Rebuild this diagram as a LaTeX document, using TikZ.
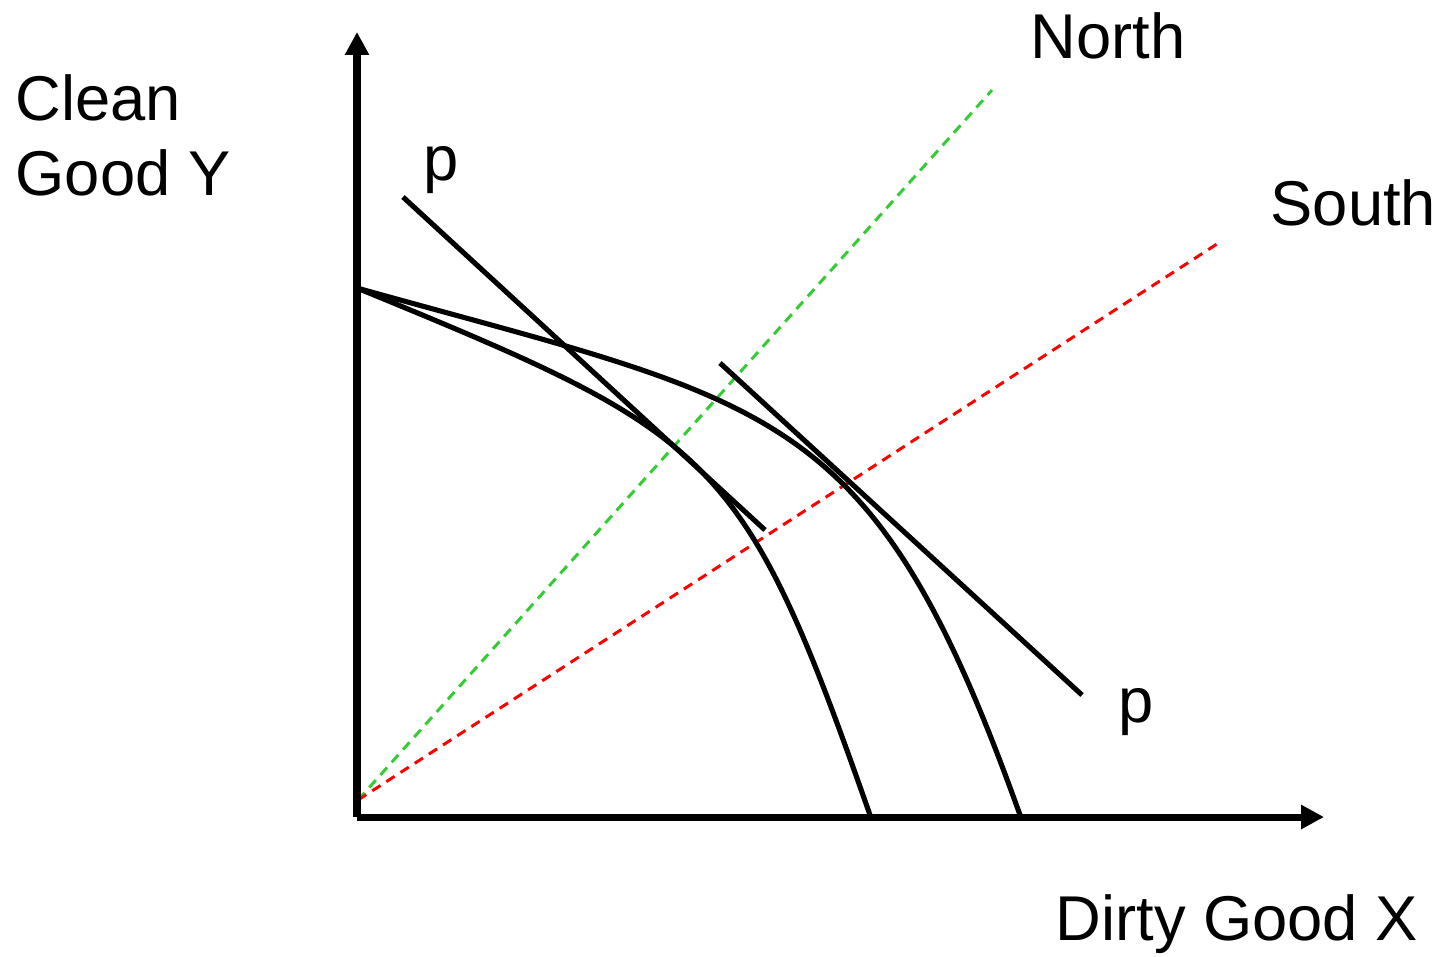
\documentclass[tikz,border=0pt]{standalone}
\usepackage{fontspec}
\setmainfont{Liberation Sans}
\usetikzlibrary{arrows.meta}
\begin{document}
\begin{tikzpicture}[x=0.01cm,y=-0.01cm,
        axisline/.style={line width=2pt, -{Triangle[length=6.5pt,width=6.5pt]}},
        ppfline/.style={line width=1.45pt},
        rayline/.style={line width=0.85pt, dash pattern=on 2.8pt off 2pt},
        axistext/.style={inner sep=0pt, anchor=base west, font=\fontsize{18pt}{21.3pt}\selectfont},
        ]
                \useasboundingbox (0,0) rectangle (1443,956);

                \coordinate (O)    at (357,817);
                \coordinate (ytip) at (357,32);
                \coordinate (xtip) at (1324,817);
                \coordinate (ray)  at (358,800);
                \coordinate (north) at (992,90);
                \coordinate (south) at (1220,242);
                \coordinate (top)  at (357,288);
                \coordinate (xin)  at (870,815);
                \coordinate (xout) at (1020,815);
                \coordinate (p1a)  at (403,197);
                \coordinate (p1b)  at (765,530);
                \coordinate (p2a)  at (720,363);
                \coordinate (p2b)  at (1082,695);

                \draw[rayline, green!75!black!80] (ray)  --  (north) ;
                \draw[rayline, red] (ray)  --  (south) ;

                \draw[axisline] (O)  --  (ytip) ;
                \draw[axisline] (O)  --  (xtip) ;

                \draw[ppfline] (top) .. controls (715,435) and (742,450) .. (xin) ;
                \draw[ppfline] (top) .. controls (776,405) and (872,401) .. (xout) ;

                \draw[ppfline] (p1a)  --  (p1b) ;
                \draw[ppfline] (p2a)  --  (p2b) ;

                \node[axistext, align=left] at (15,195) (ylab) {Clean\\Good Y};
                \node[axistext] at (1055,940) (xlab) {Dirty Good X};
                \node[axistext] at (1030,58) (nlab) {North};
                \node[axistext] at (1270,225) (slab) {South};
                \node[axistext] at (423,180) (plab1) {p};
                \node[axistext] at (1118,722) (plab2) {p};

            \end{tikzpicture}
\end{document}
